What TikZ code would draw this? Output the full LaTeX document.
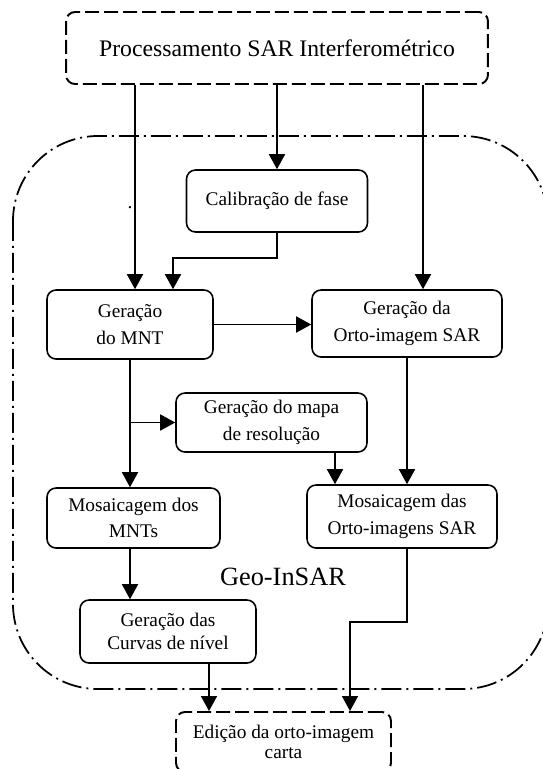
\documentclass[tikz,border=0pt]{standalone}
\usepackage{fontspec}
\setmainfont{Liberation Serif}
\usetikzlibrary{arrows.meta}

\tikzset{
  stage/.style={draw, line width=0.9pt, rounded corners=0.18cm, align=center,
    inner sep=0pt, font=\fontsize{11}{15}\selectfont},
  extstage/.style={stage, dash pattern=on 0.28cm off 0.1cm, line width=1.1pt},
  flow/.style={line width=0.9pt, -{Triangle[length=0.3cm,width=0.32cm]}},
  zone/.style={line width=1pt, rounded corners=1.7cm,
    dash pattern=on 0.4cm off 0.1cm on 0.04cm off 0.1cm}
}

\begin{document}
\begin{tikzpicture}[x=0.02cm,y=-0.02cm]
  \useasboundingbox (0,0) rectangle (543,769);

  % The Geo-InSAR region.
  \draw[zone] (13,136) rectangle (548,689);
  \node[font=\fontsize{15}{18}\selectfont] (geo) at (283,577) {Geo-InSAR};

  % The stages outside the region.
  \node[extstage, minimum width=8.44cm, minimum height=1.44cm,
    font=\fontsize{13.5}{16}\selectfont] (proc) at (277,48)
    {Processamento SAR Interferométrico};
  \node[extstage, minimum width=4.3cm, minimum height=1.2cm,
    font=\fontsize{11}{11}\selectfont] (edicao) at (283.5,742)
    {Edição da orto-imagem\\carta};

  % The stages inside the region.
  \node[stage, minimum width=3.62cm, minimum height=1.24cm] (calib) at (277,201)
    {Calibração de fase};
  \node[stage, minimum width=3.32cm, minimum height=1.38cm] (mnt) at (130,324.5)
    {Geração\\do MNT};
  \node[stage, minimum width=3.8cm, minimum height=1.34cm] (orto) at (407,323.5)
    {Geração da\\Orto-imagem SAR};
  \node[stage, minimum width=3.82cm, minimum height=1.18cm] (mapa) at (271.5,422.5)
    {Geração do mapa\\de resolução};
  \node[stage, minimum width=3.46cm, minimum height=1.2cm] (mosmnt) at (133.5,518)
    {Mosaicagem dos\\MNTs};
  \node[stage, minimum width=3.8cm, minimum height=1.26cm] (mosorto) at (402,516.5)
    {Mosaicagem das\\Orto-imagens SAR};
  \node[stage, minimum width=3.52cm, minimum height=1.26cm,
    font=\fontsize{11}{13}\selectfont] (curvas) at (168,631.5)
    {Geração das\\Curvas de nível};

  \node[font=\fontsize{11}{11}\selectfont, anchor=base] (dot) at (130,208) {.};

  % Where the connectors leave or turn.
  \coordinate (lin) at (135,0);
  \coordinate (rin) at (423,0);
  \coordinate (kink) at (173,258);
  \coordinate (mapout) at (335,0);
  \coordinate (curout) at (209,0);
  \coordinate (stepR) at (350,622);

  % Connect the stages.
  \draw[flow] (proc.south -| lin) -- (mnt.north -| lin);
  \draw[flow] (proc.south) -- (calib.north);
  \draw[flow] (proc.south -| rin) -- (orto.north -| rin);
  \draw[flow] (calib.south) |- (kink) -- (kink |- mnt.north);
  \draw[flow] (mnt.east) -- (mnt.east -| orto.west);
  \draw[flow] (mnt.south) -- (mnt.south |- mosmnt.north);
  \draw[flow] (mnt.south |- mapa.west) -- (mapa.west);
  \draw[flow] (mapa.south -| mapout) -- (mosorto.north -| mapout);
  \draw[flow] (orto.south) -- (orto.south |- mosorto.north);
  \draw[flow] (mosmnt.south -| mnt.south) -- (curvas.north -| mnt.south);
  \draw[flow] (curvas.south -| curout) -- (edicao.north -| curout);
  \draw[flow] (mosorto.south -| orto.south) |- (stepR) -- (stepR |- edicao.north);

\end{tikzpicture}
\end{document}
